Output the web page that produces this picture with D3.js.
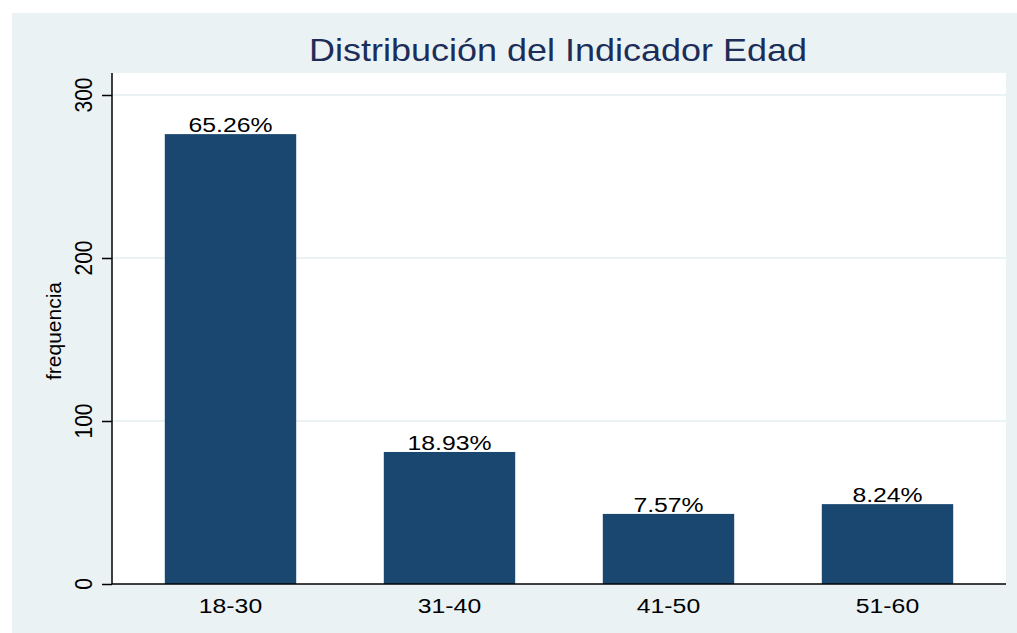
<!DOCTYPE html>
<html>
<head>
<meta charset="utf-8">
<script src="https://cdn.jsdelivr.net/npm/d3@7"></script>
<style>
  html, body { margin: 0; padding: 0; background: #fff; }
  svg { display: block; font-family: "Liberation Sans", Arial, sans-serif; }
</style>
</head>
<body>
<div id="chart"></div>
<script>
// data
const categories = ["18-30", "31-40", "41-50", "51-60"]
const frequencies = [276, 81, 43, 49]
const percentLabels = ["65.26%", "18.93%", "7.57%", "8.24%"]
const yTicks = [0, 100, 200, 300]

const width = 1017, height = 633
const plot = {left: 112, right: 1006, top: 73, bottom: 584}
const stretch = 1.18 // the original image is stretched horizontally

const svg = d3.select("#chart").append("svg")
    .attr("width", width)
    .attr("height", height)

// outer graph region
svg.append("rect")
    .attr("x", 12).attr("y", 13)
    .attr("width", width - 12).attr("height", height - 13)
    .attr("fill", "#eaf2f3")

// plot region
svg.append("rect")
    .attr("x", plot.left).attr("y", plot.top)
    .attr("width", plot.right - plot.left).attr("height", plot.bottom - plot.top)
    .attr("fill", "#ffffff")

const x = d3.scaleBand()
    .domain(categories)
    .range([121, 997])
    .paddingInner(0.4)
    .paddingOuter(0.2)

const y = d3.scaleLinear()
    .domain([0, 300])
    .range([plot.bottom, 95])

// gridlines
svg.append("g")
    .selectAll("line")
    .data(yTicks.filter(d => d > 0))
    .join("line")
    .attr("x1", plot.left)
    .attr("x2", plot.right)
    .attr("y1", d => y(d))
    .attr("y2", d => y(d))
    .attr("stroke", "#eaf2f3")
    .attr("stroke-width", 2)

// bars
svg.append("g")
    .selectAll("rect")
    .data(frequencies)
    .join("rect")
    .attr("x", (d, i) => x(categories[i]))
    .attr("y", d => y(d))
    .attr("width", x.bandwidth())
    .attr("height", d => y(0) - y(d))
    .attr("fill", "#1a476f")

// percentage labels above bars
svg.append("g")
    .selectAll("text")
    .data(frequencies)
    .join("text")
    .attr("transform", (d, i) => `translate(${x(categories[i]) + x.bandwidth() / 2},${y(d) - 2}) scale(${stretch},1)`)
    .attr("text-anchor", "middle")
    .style("font-size", "21px")
    .attr("fill", "#000")
    .text((d, i) => percentLabels[i])

// y axis
const yAxis = svg.append("g")
    .attr("transform", `translate(${plot.left},0)`)
    .call(d3.axisLeft(y).tickValues(yTicks).tickSize(10).tickSizeOuter(0))
yAxis.select(".domain").remove()
yAxis.selectAll(".tick line").attr("stroke", "#000").attr("stroke-width", 1.5)
yAxis.selectAll(".tick text").remove()
yAxis.append("line")
    .attr("y1", plot.top).attr("y2", plot.bottom)
    .attr("stroke", "#000").attr("stroke-width", 1.5)

svg.append("g")
    .selectAll("text")
    .data(yTicks)
    .join("text")
    .attr("transform", d => `translate(92,${y(d)}) scale(${stretch},1) rotate(-90)`)
    .attr("text-anchor", "middle")
    .style("font-size", "21px")
    .attr("fill", "#000")
    .text(d => d)

// x axis
const xAxis = svg.append("g")
    .attr("transform", `translate(0,${plot.bottom})`)
    .call(d3.axisBottom(x).tickSize(0).tickSizeOuter(0))
xAxis.select(".domain").remove()
xAxis.selectAll(".tick text").remove()
xAxis.append("line")
    .attr("x1", plot.left).attr("x2", plot.right)
    .attr("stroke", "#000").attr("stroke-width", 1.5)

svg.append("g")
    .selectAll("text")
    .data(categories)
    .join("text")
    .attr("transform", d => `translate(${x(d) + x.bandwidth() / 2},${plot.bottom + 29}) scale(${stretch},1)`)
    .attr("text-anchor", "middle")
    .style("font-size", "21px")
    .attr("fill", "#000")
    .text(d => d)

// axis title
svg.append("text")
    .attr("transform", `translate(61,331) rotate(-90)`)
    .attr("text-anchor", "middle")
    .style("font-size", "21px")
    .attr("fill", "#000")
    .text("frequencia")

// title
svg.append("text")
    .attr("transform", `translate(558,61) scale(${stretch},1)`)
    .attr("text-anchor", "middle")
    .style("font-size", "30.5px")
    .attr("fill", "#1c2d59")
    .text("Distribución del Indicador Edad")
</script>
</body>
</html>
